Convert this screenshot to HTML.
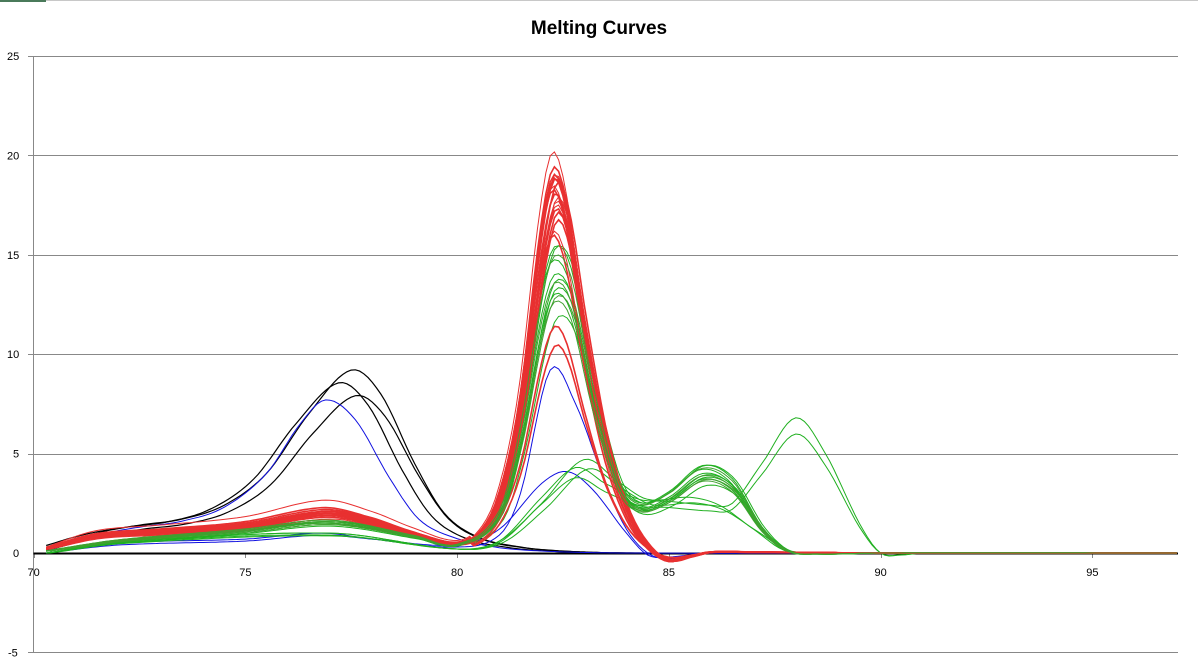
<!DOCTYPE html>
<html><head><meta charset="utf-8"><style>
body{margin:0;background:#fff;}
svg{display:block;font-family:"Liberation Sans",sans-serif;}
</style></head><body>
<svg id="s" width="1198" height="667" xmlns="http://www.w3.org/2000/svg">
<rect x="0" y="0" width="1198" height="667" fill="#fff"/>
<line x1="0" y1="0.5" x2="1198" y2="0.5" stroke="#c8c8c8"/>
<rect x="0" y="0" width="46" height="2" fill="#4a7a5a"/>
<text x="599" y="34" text-anchor="middle" font-size="19" font-weight="bold" fill="#000">Melting Curves</text>
<g id="grid" stroke="#888" stroke-width="1"></g>
<g id="labels" font-size="11" fill="#000"></g>
<g id="series" fill="none"></g>
</svg>
<script>
var X0=33.5,XS=42.35,Y0=553,YS=19.88;
function px(t){return X0+(t-70)*XS}function py(v){return Y0-v*YS}
var ns="http://www.w3.org/2000/svg";
function el(p,tag,a,txt){var e=document.createElementNS(ns,tag);for(var k in a)e.setAttribute(k,a[k]);if(txt!=null)e.textContent=txt;document.getElementById(p).appendChild(e);return e}
[25,20,15,10,5,-5].forEach(function(v){var y=Math.round(py(v))+0.5;el('grid','line',{x1:28,y1:y,x2:1178,y2:y});});
el('grid','line',{x1:33.5,y1:57,x2:33.5,y2:653});
[25,20,15,10,5,0,-5].forEach(function(v){el('labels','text',{x:v<0?8:(v>=10?7:13),y:py(v)+4},v)});
[70,75,80,85,90,95].forEach(function(t){el('labels','text',{x:px(t)-6,y:576},t);el('grid','line',{x1:Math.round(px(t))+.5,y1:553,x2:Math.round(px(t))+.5,y2:558});});
function interp(pts,t){if(t<=pts[0][0])return pts[0][1];for(var i=0;i<pts.length-1;i++){if(t<=pts[i+1][0]){var p0=pts[Math.max(i-1,0)],p1=pts[i],p2=pts[i+1],p3=pts[Math.min(i+2,pts.length-1)];var u=(t-p1[0])/(p2[0]-p1[0]);var m1=(p2[1]-p0[1])/(p2[0]-p0[0]||1)*(p2[0]-p1[0]);var m2=(p3[1]-p1[1])/(p3[0]-p1[0]||1)*(p2[0]-p1[0]);var u2=u*u,u3=u2*u;return (2*u3-3*u2+1)*p1[1]+(u3-2*u2+u)*m1+(-2*u3+3*u2)*p2[1]+(u3-u2)*m2;}}return pts[pts.length-1][1]}
function draw(pts,col,w,kb,kp,sh,split){var d='';for(var t=70.3;t<=97;t+=0.1){var v=interp(pts,t-sh);v*= (t<(split||80.3)?kb:kp);d+=(d?'L':'M')+px(t).toFixed(1)+','+py(v).toFixed(1);}el('series','path',{d:d,stroke:col,'stroke-width':w});}
var red=[[70.3,0.2],[71.5,0.8],[73,1.0],[75,1.3],[76.9,1.9],[78,1.5],[79,0.9],[80,0.45],[80.5,0.9],[81,2.8],[81.5,7.5],[82,16],[82.3,19],[82.6,17.5],[83,12],[83.5,6],[84,2.3],[84.5,0.4],[85,-0.4],[85.5,-0.2],[86,0.05],[87,0.05],[90,0],[97,0]];
var black=[[70.3,0.2],[71.5,1.0],[72.5,1.4],[73.5,1.7],[74.5,2.4],[75.5,4.0],[76.5,7.0],[77.5,9.2],[78.2,8.0],[79,4.5],[79.7,2.0],[80.5,0.8],[81.5,0.3],[82.5,0.1],[84,0],[97,0]];
var blue1=[[70.3,0.1],[71.5,0.9],[72.5,1.3],[73.5,1.6],[74.5,2.3],[75.5,4.0],[76.3,6.5],[76.9,7.7],[77.6,6.7],[78.4,3.8],[79.1,1.7],[79.9,0.8],[80.9,0.3],[82,0.1],[84,0],[97,0]];
var blue2=[[70.3,0],[72,0.5],[75,0.7],[76.8,1.0],[78,0.7],[80,0.3],[81,0.9],[81.5,3],[82.2,9.2],[82.8,7.5],[83.5,3.5],[84,1.2],[84.5,0],[85,-0.3],[85.5,-0.1],[86,0],[97,0]];
var blue3=[[70.3,0],[72,0.4],[75,0.6],[76.8,0.9],[78,0.7],[80,0.4],[81,1.2],[82,3.5],[82.6,4.1],[83.2,3.2],[84,1],[84.5,-0.1],[85,-0.2],[86,0],[97,0]];
var gA=[[70.3,0.1],[72,0.6],[75,1.1],[77,1.5],[79,0.8],[80,0.4],[81,2],[81.5,6],[82,12],[82.3,14],[82.7,13],[83.2,8],[83.8,3.5],[84.3,2.3],[85,2.8],[85.8,4],[86.5,3.4],[87.2,1.2],[87.8,0.1],[88.5,-0.05],[90,0],[97,0]];
var gB=[[70.3,0],[72,0.5],[77,0.9],[80,0.2],[81,0.6],[82,2.5],[83,4.7],[83.8,3.6],[84.5,2.7],[85.5,2.8],[86.2,2.4],[87,1.2],[87.8,0.1],[90,0],[97,0]];
var gC=[[70.3,0],[72,0.5],[77,1.0],[80,0.2],[81,0.6],[82,2.8],[82.8,4.3],[83.5,3.5],[84.3,2.7],[85,2.6],[86,2.4],[86.5,2.5],[87.2,4.5],[88,6.8],[88.7,5],[89.5,1.5],[90,0],[90.5,-0.1],[91,0],[97,0]];
el('series','line',{x1:33.5,y1:553.5,x2:1178,y2:553.5,stroke:'#000','stroke-width':2});
draw(black,'#000',1.2,1,1,0);draw(black,'#000',1.2,0.93,0.93,-0.3);draw(black,'#000',1.2,0.86,0.86,0.1);
draw(blue1,'#1010e0',1,1,1,0);
draw(blue2,'#1010e0',1,1,1,0);draw(blue3,'#1010e0',1,1,1,0);
draw(gB,'#20b020',1,1,1,0);draw(gB,'#20b020',1,0.95,0.9,0.1);
draw(gC,'#20b020',1,1,1,0);draw(gC,'#20b020',1,1,0.88,0);
var ga=[[1.0,1.1,0],[1.05,1.0,0],[0.95,0.95,0.05],[1.1,0.93,0],[1.0,1.05,-0.05],[0.9,0.98,0.05],[1.0,1.1,0.05],[1.05,0.85,0.1]];
ga.forEach(function(g){draw(gA,'#20b020',1,g[0],g[1],g[2])});
var rs=[[1,1.06],[1.1,1.0],[0.95,0.99],[1.05,0.93],[1.0,0.9],[1.2,0.84],[1.4,0.85],[1.1,0.6],[1.0,0.55],[0.9,0.94],[1.05,0.96],[1.0,1.02],[0.95,1.0],[1.1,0.91],[1.05,0.88],[1.0,0.97],[1.15,0.99],[1.0,0.95],[0.95,0.92],[1.1,0.98]];
rs.forEach(function(r,i){draw(red,'#e83030',i%3==0?1:1.6,r[0],r[1],(i%5-2)*0.03)});
ga.slice(0,4).forEach(function(g){draw(gA,'#40a030',1,g[0],g[1]*0.97,g[2])});
</script>
</body></html>
